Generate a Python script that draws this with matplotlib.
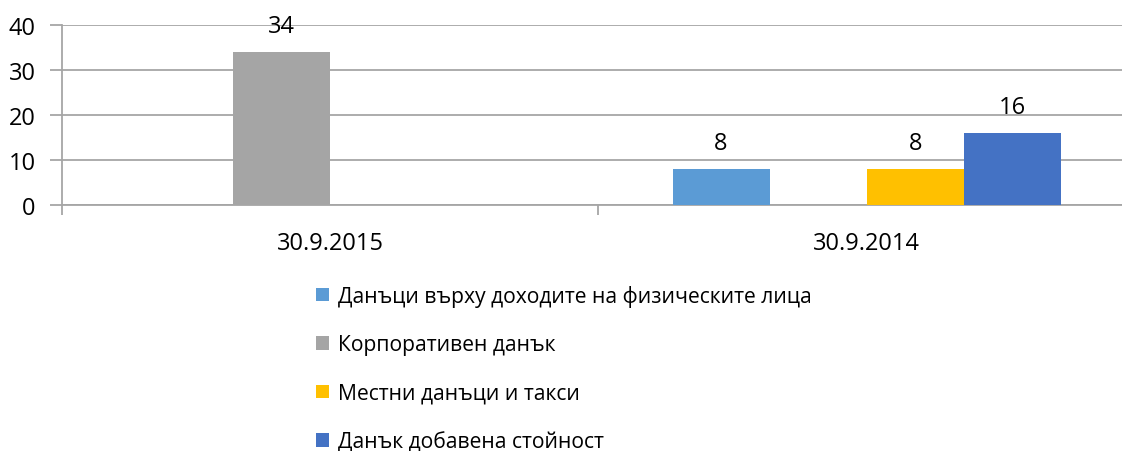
import matplotlib
matplotlib.use('Agg')
import matplotlib.pyplot as plt
from matplotlib.patches import Patch
import numpy as np

plt.rcParams['font.family'] = ['Open Sans', 'DejaVu Sans']

# Data: tax receipts by type for the two reporting dates
categories = ['30.9.2015', '30.9.2014']
series_names = ['Данъци върху доходите на физическите лица',
                'Корпоративен данък',
                'Местни данъци и такси',
                'Данък добавена стойност']
income_tax = [np.nan, 8]
corporate_tax = [34, np.nan]
local_taxes = [np.nan, 8]
vat = [np.nan, 16]
colors = ['#5B9BD5', '#A5A5A5', '#FFC000', '#4472C4']

values = [income_tax, corporate_tax, local_taxes, vat]
grid_color = '#A6A6A6'
fs = 17

fig = plt.figure(figsize=(11.22, 4.52), dpi=100)
ax = fig.add_axes([62 / 1122, 1 - 206 / 452, 1073 / 1122, 180 / 452])

x = np.arange(len(categories))
w = 0.181
for i, (vals, c) in enumerate(zip(values, colors)):
    pos = x + (i - 1.5) * w
    ax.bar(pos, vals, width=w, color=c, zorder=3)
    for p, v in zip(pos, vals):
        if not np.isnan(v):
            ax.annotate(f'{v:g}', (p, v), xytext=(0, 19), textcoords='offset points',
                        ha='center', va='center', fontsize=fs, color='black')

ax.set_xlim(-0.5, 1.5)
ax.set_ylim(0, 40)
ax.set_yticks([0, 10, 20, 30, 40])
ax.yaxis.grid(True, color=grid_color, linewidth=1.3, zorder=0)
ax.tick_params(axis='y', length=9, width=1.3, color=grid_color, pad=10, labelsize=fs)

ax.set_xticks(x)
ax.set_xticklabels(categories)
ax.set_xticks([-0.5, 0.5, 1.5], minor=True)
ax.tick_params(axis='x', which='major', length=0, pad=19, labelsize=fs)
ax.tick_params(axis='x', which='minor', length=7, width=1.3, color=grid_color)

for side in ['top', 'right']:
    ax.spines[side].set_visible(False)
for side in ['left', 'bottom']:
    ax.spines[side].set_color(grid_color)
    ax.spines[side].set_linewidth(1.3)

handles = [Patch(facecolor=c, edgecolor='none') for c in colors]
fig.legend(handles, series_names, loc='upper left',
           bbox_to_anchor=(316 / 1122, 1 - 286 / 452), frameon=False,
           fontsize=15.2, handlelength=0.63, handleheight=0.63,
           handletextpad=0.4, labelspacing=1.3, borderaxespad=0, borderpad=0)

fig.savefig('out.png', dpi=100)
